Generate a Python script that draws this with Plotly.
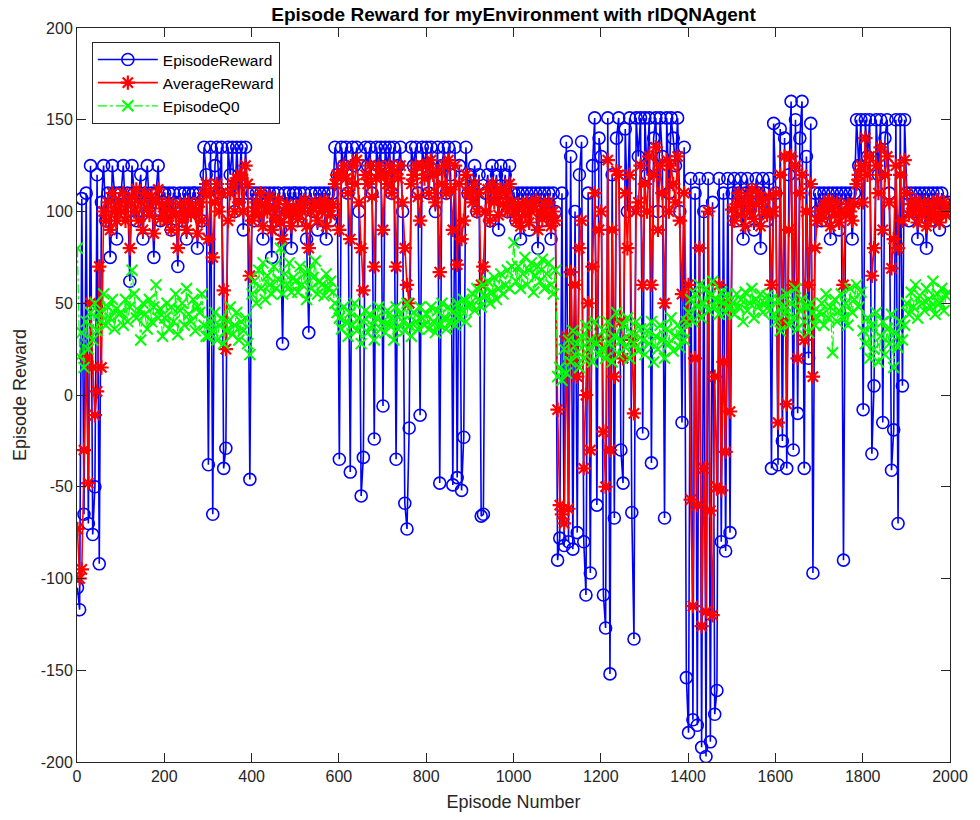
import plotly.graph_objects as go

# Episode numbers (sampled every 5 episodes over the 2000-episode run)
episodes = list(range(1, 2001, 5))

episode_reward = [
    -105, -117, 107, -65, 110, -70, 125, -76, -50, 120, -92, 105, 125, 95, 110, 75, 125, 110, 85, 110,
    110, 125, 100, 110, 62, 125, 110, 95, 110, 120, 85, 110, 125, 100, 110, 75, 110, 125, 95, 110,
    110, 100, 110, 90, 110, 105, 70, 110, 95, 110, 85, 110, 100, 110, 110, 80, 110, 95, 135, 120,
    -38, 135, -65, 125, 135, 110, 135, -40, -29, 135, 120, 135, 100, 135, 110, 135, 90, 135, 110, -46,
    110, 95, 110, 100, 110, 85, 110, 105, 110, 75, 110, 95, 110, 90, 28, 110, 100, 110, 80, 110,
    110, 95, 110, 105, 110, 85, 34, 110, 100, 110, 90, 110, 105, 110, 85, 110, 95, 110, 135, 120,
    -35, 135, 125, 135, 110, -42, 135, 125, 135, 100, -55, -34, 135, 125, 135, 110, -24, 135, 125, 135,
    -6, 135, 125, 135, 110, 135, -35, 125, 135, 100, -59, -73, -18, 135, 125, 135, 110, -11, 135, 125,
    135, 110, 135, 125, 100, 135, -48, 125, 135, 110, 135, 120, -49, 135, -45, 125, -52, -23, 135, 110,
    120, 110, 125, 100, 120, -66, -65, 110, 120, 95, 125, 110, 120, 90, 125, 110, 120, 100, 125, 110,
    110, 95, 110, 85, 110, 100, 110, 90, 110, 105, 110, 80, 110, 95, 110, 100, 110, 85, 110, 100,
    -90, -78, 110, -82, 138, -80, 130, -84, 100, -75, 120, 138, -80, -109, 110, -97, 125, 151, -60, 140,
    130, -109, -127, 151, -152, 120, -67, 140, 151, -30, -48, 145, 100, 151, -64, -133, 151, 130, 151, -21,
    151, 120, 151, -37, 140, 151, 100, 151, 130, -67, 151, 110, 151, 140, 125, 151, 100, -15, 135, -154,
    -184, 118, -177, 110, -180, 118, -192, 100, -197, 118, -189, 105, -174, -161, 118, -80, 110, -85, 118, -75,
    110, 118, 95, 110, 118, 85, 110, 118, 100, 110, 90, 118, 110, 80, 118, 110, 95, 118, -40, 148,
    110, -38, 145, -25, 140, -40, 120, 160, -30, 150, -10, 140, 160, -40, 130, 20, 148, -97, 110, 100,
    110, 95, 110, 100, 110, 85, 110, 105, 110, 90, 110, -90, 110, 100, 110, 85, 110, 150, 125, 150,
    -8, 150, 130, 150, -32, 5, 150, 120, 150, -15, 140, 150, 110, -41, -19, 150, -70, 150, 5, 150,
    110, 95, 110, 100, 110, 85, 110, 105, 110, 80, 110, 95, 110, 100, 110, 90, 110, 105, 95, 105,
]

average_reward = [
    -73, -100, -95, -30, 20, -48, 50, 15, -11, 2, 70, 15, 100, 95, 105, 90, 110, 100, 95, 105,
    100, 110, 95, 105, 80, 108, 100, 112, 95, 105, 90, 110, 102, 98, 108, 88, 105, 112, 96, 104,
    100, 95, 105, 90, 100, 98, 80, 104, 95, 100, 90, 105, 98, 102, 100, 88, 105, 95, 110, 115,
    85, 110, 75, 105, 115, 100, 110, 57, 25, 95, 110, 115, 100, 118, 105, 120, 100, 125, 115, 65,
    95, 100, 105, 98, 110, 92, 104, 100, 108, 90, 102, 96, 106, 94, 85, 100, 104, 98, 92, 102,
    100, 96, 104, 100, 106, 92, 80, 100, 102, 105, 95, 104, 100, 106, 92, 102, 98, 104, 115, 120,
    90, 120, 125, 118, 110, 85, 125, 115, 128, 105, 80, 57, 120, 115, 125, 108, 70, 118, 125, 120,
    90, 120, 115, 125, 110, 122, 70, 118, 125, 105, 80, 60, 50, 115, 120, 125, 108, 95, 125, 118,
    125, 110, 128, 120, 105, 122, 67, 115, 125, 110, 128, 112, 90, 125, 71, 115, 85, 95, 120, 110,
    110, 105, 115, 100, 110, 60, 70, 100, 112, 95, 115, 105, 110, 98, 112, 104, 110, 100, 115, 105,
    100, 95, 104, 92, 102, 98, 105, 94, 100, 103, 106, 90, 100, 96, 104, 98, 105, 92, 100, 95,
    -8, -60, -65, -70, 32, -62, 67, 20, 60, 10, 80, 95, -40, 0, 50, -30, 70, 110, 30, 90,
    100, -20, -50, 128, -30, 90, 10, 122, 120, 40, 20, 110, 80, 120, 30, -10, 100, 105, 125, 60,
    115, 100, 130, 60, 120, 135, 90, 125, 110, 50, 128, 100, 125, 115, 105, 130, 95, 55, 110, 40,
    60, -57, -115, 20, -60, 80, -126, -40, -118, 100, -63, -120, 10, -50, 60, -52, 18, -31, 50, -9,
    101, 95, 104, 110, 98, 105, 92, 108, 100, 112, 96, 104, 110, 92, 106, 100, 98, 108, 60, 100,
    110, -15, 120, 40, 130, -5, 90, 130, 60, 125, 20, 110, 120, 30, 100, 60, 115, 10, 80, 95,
    100, 96, 104, 100, 106, 92, 102, 98, 105, 94, 100, 60, 98, 104, 100, 95, 104, 115, 120, 125,
    105, 140, 120, 130, 65, 80, 125, 110, 135, 90, 120, 130, 105, 69, 85, 125, 80, 120, 95, 128,
    110, 98, 104, 100, 106, 94, 102, 98, 105, 92, 100, 96, 104, 98, 106, 94, 100, 105, 98, 102,
]

episode_q0 = [
    80, 21, 34, 15, 40, 25, 45, 30, 50, 35, 45, 40, 55, 38, 48, 42, 52, 36, 47, 44,
    45, 38, 52, 40, 48, 68, 55, 42, 46, 30, 50, 44, 36, 52, 40, 48, 60, 42, 47, 32,
    42, 50, 36, 48, 40, 55, 33, 46, 50, 38, 58, 44, 40, 52, 35, 48, 45, 55, 38, 32,
    32, 40, 35, 45, 30, 38, 42, 28, 35, 40, 48, 33, 38, 45, 30, 40, 35, 42, 28, 22,
    55, 62, 50, 68, 58, 72, 52, 65, 60, 55, 70, 58, 63, 80, 55, 66, 60, 72, 56, 64,
    62, 56, 70, 60, 66, 52, 68, 58, 64, 73, 55, 62, 60, 54, 66, 58, 62, 56, 50, 45,
    42, 36, 48, 40, 32, 45, 38, 50, 35, 42, 28, 40, 46, 34, 44, 38, 30, 42, 48, 36,
    40, 34, 46, 38, 42, 30, 48, 36, 44, 40, 35, 50, 38, 32, 45, 40, 36, 48, 42, 38,
    44, 36, 48, 40, 34, 46, 38, 50, 42, 36, 48, 40, 45, 38, 50, 42, 46, 52, 40, 48,
    50, 55, 46, 58, 52, 48, 60, 54, 62, 50, 56, 64, 52, 58, 66, 55, 60, 68, 58, 70,
    83, 62, 70, 58, 66, 75, 60, 68, 72, 56, 65, 70, 62, 74, 58, 66, 72, 60, 55, 68,
    10, 15, 8, 25, 12, 30, 18, 35, 22, 28, 15, 32, 20, 38, 25, 30, 18, 40, 28, 22,
    25, 35, 20, 40, 28, 18, 32, 45, 22, 30, 38, 26, 42, 20, 34, 28, 40, 24, 36, 30,
    22, 35, 28, 40, 18, 32, 25, 38, 30, 20, 36, 28, 42, 24, 32, 38, 26, 35, 30, 40,
    45, 52, 40, 55, 48, 60, 42, 50, 58, 46, 54, 62, 48, 52, 44, 56, 50, 45, 55, 48,
    50, 44, 55, 48, 52, 40, 56, 46, 50, 58, 42, 52, 48, 55, 45, 50, 54, 46, 52, 44,
    40, 52, 35, 48, 44, 55, 38, 50, 42, 58, 36, 46, 52, 40, 48, 34, 50, 45, 38, 42,
    45, 50, 38, 55, 42, 48, 23, 52, 40, 46, 55, 42, 50, 38, 58, 45, 52, 60, 48, 56,
    35, 28, 42, 20, 38, 25, 45, 18, 32, 40, 22, 36, 28, 44, 15, 34, 26, 40, 30, 38,
    50, 44, 56, 48, 60, 42, 54, 50, 46, 58, 52, 48, 62, 44, 55, 50, 58, 46, 54, 56,
]

x_ticks = [0, 200, 400, 600, 800, 1000, 1200, 1400, 1600, 1800, 2000]
y_ticks = [-200, -150, -100, -50, 0, 50, 100, 150, 200]

FONT = "Liberation Sans, Arial, Helvetica, sans-serif"
AXIS_COLOR = "#262626"

fig = go.Figure()

fig.add_trace(go.Scatter(
    x=episodes, y=episode_reward, name="EpisodeReward",
    mode="lines+markers",
    line=dict(color="#0000FF", width=1.6),
    marker=dict(symbol="circle-open", size=12, color="#0000FF", line=dict(width=1.6, color="#0000FF")),
))
fig.add_trace(go.Scatter(
    x=episodes, y=average_reward, name="AverageReward",
    mode="lines+markers",
    line=dict(color="#FF0000", width=1.6),
    marker=dict(symbol="asterisk-open", size=12, color="#FF0000", line=dict(width=2.2, color="#FF0000")),
))
fig.add_trace(go.Scatter(
    x=episodes, y=episode_q0, name="EpisodeQ0",
    mode="lines+markers",
    line=dict(color="#00FF00", width=1.2, dash="dashdot"),
    marker=dict(symbol="x-thin-open", size=11, color="#00FF00", line=dict(width=2.0, color="#00FF00")),
))

axis_common = dict(
    showline=True, linecolor=AXIS_COLOR, linewidth=1, mirror="ticks",
    ticks="inside", ticklen=9, tickwidth=1, tickcolor=AXIS_COLOR,
    showgrid=False, zeroline=False,
    tickfont=dict(family=FONT, size=16, color=AXIS_COLOR),
)

fig.update_xaxes(
    range=[0, 2000], tickvals=x_ticks, ticktext=[str(t) for t in x_ticks],
    title=dict(text="Episode Number", font=dict(family=FONT, size=18, color=AXIS_COLOR), standoff=11),
    **axis_common,
)
fig.update_yaxes(
    range=[-200, 200], tickvals=y_ticks, ticktext=[str(t) for t in y_ticks],
    title=dict(text="Episode Reward", font=dict(family=FONT, size=18, color=AXIS_COLOR), standoff=9),
    **axis_common,
)

fig.update_layout(
    width=980, height=820,
    margin=dict(l=77, r=30, t=28, b=58),
    paper_bgcolor="white", plot_bgcolor="white",
    title=dict(
        text="<b>Episode Reward for myEnvironment with rlDQNAgent</b>",
        font=dict(family=FONT, size=19, color="#000000"),
        x=0.524, xanchor="center", y=0.983, yanchor="middle", yref="container",
    ),
    legend=dict(
        x=0.017, y=0.981, xanchor="left", yanchor="top",
        bgcolor="white", bordercolor=AXIS_COLOR, borderwidth=1,
        font=dict(family=FONT, size=15.5, color="#000000"),
        itemwidth=60, tracegroupgap=0,
    ),
    showlegend=True,
)

fig.write_html("out.html")
